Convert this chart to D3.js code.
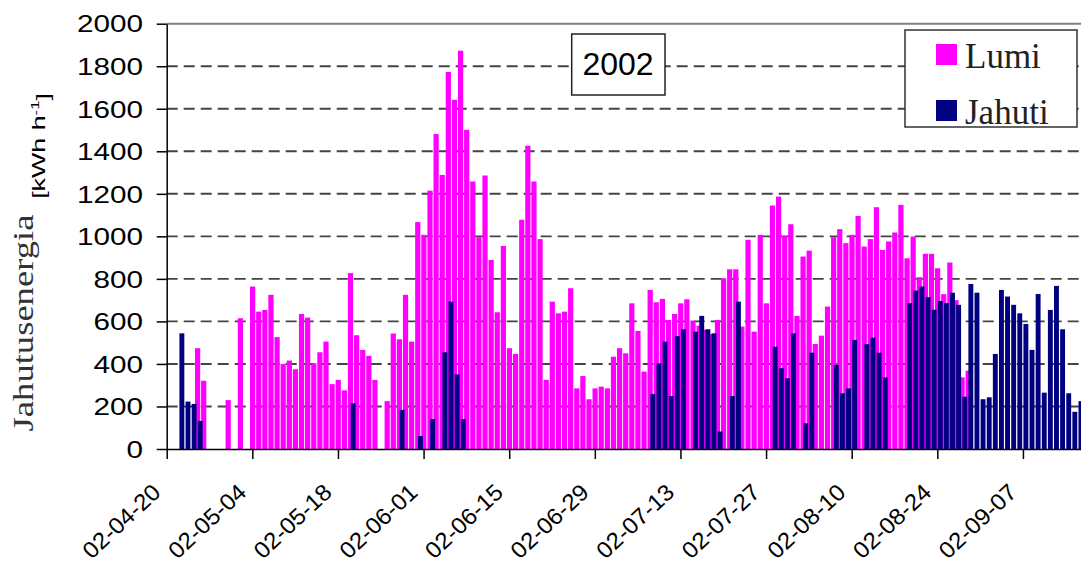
<!DOCTYPE html>
<html>
<head>
<meta charset="utf-8">
<script src="https://cdn.jsdelivr.net/npm/d3@7"></script>
<style>
  body { margin: 0; background: #fff; }
  svg { display: block; }
</style>
</head>
<body>
<div id="chart"></div>
<script>
/* DATA – one value per day, starting 2002-04-20 */
var startDay = "02-04-20";

var lumi = [
  0, 0, 0, 0, 0, 474, 321, 0, 0, 0,
  230, 0, 615, 0, 764, 646, 654, 725, 526, 400,
  416, 375, 635, 618, 403, 455, 505, 305, 325, 276,
  827, 535, 466, 438, 325, 0, 225, 543, 516, 725,
  505, 1067, 1007, 1215, 1481, 1289, 1773, 1642, 1873, 1501,
  1258, 996, 1286, 889, 643, 955, 474, 447, 1078, 1426,
  1258, 987, 325, 693, 638, 646, 756, 285, 343, 234,
  285, 293, 285, 434, 474, 450, 685, 555, 364, 748,
  690, 706, 607, 635, 685, 704, 604, 580, 560, 540,
  607, 803, 845, 845, 576, 984, 552, 1007, 685, 1145,
  1187, 1002, 1057, 626, 905, 933, 494, 533, 670, 996,
  1034, 968, 1007, 1096, 952, 987, 1137, 936, 976, 1018,
  1148, 897, 999, 808, 918, 918, 850, 728, 877, 700,
  337, 368, 0, 0, 0, 0, 0, 0, 0, 0,
  0, 0, 0, 0, 0, 0, 0, 0, 0, 0
];

var jahuti = [
  0, 0, 544, 223, 212, 132, 0, 0, 0, 0,
  0, 0, 0, 0, 0, 0, 0, 0, 0, 0,
  0, 0, 0, 0, 0, 0, 0, 0, 0, 0,
  215, 0, 0, 0, 0, 0, 0, 0, 184, 0,
  0, 61, 0, 141, 0, 455, 693, 351, 141, 0,
  0, 0, 0, 0, 0, 0, 0, 0, 0, 0,
  0, 0, 0, 0, 0, 0, 0, 0, 0, 0,
  0, 0, 0, 0, 0, 0, 0, 0, 0, 259,
  403, 505, 249, 531, 563, 0, 552, 626, 563, 544,
  82, 0, 249, 693, 0, 0, 0, 0, 0, 481,
  380, 333, 544, 0, 121, 453, 0, 0, 0, 395,
  262, 285, 513, 0, 493, 524, 453, 337, 0, 0,
  0, 686, 745, 764, 714, 655, 696, 686, 735, 678,
  246, 776, 735, 234, 243, 447, 748, 717, 678, 638,
  588, 466, 729, 265, 654, 767, 563, 262, 175, 225
];

var xTickLabels = ["02-04-20", "02-05-04", "02-05-18", "02-06-01", "02-06-15", "02-06-29",
                   "02-07-13", "02-07-27", "02-08-10", "02-08-24", "02-09-07"];
var yTicks = [0, 200, 400, 600, 800, 1000, 1200, 1400, 1600, 1800, 2000];
var seriesNames = ["Lumi", "Jahuti"];
var seriesColors = ["#ff00ff", "#000080"];
var yearLabel = "2002";

/* SETUP */
var width = 1081;
var height = 567;
var plotLeft = 166.7, plotBottom = 449, plotTop = 23.7;
var dayWidth = 6.116;

var parseDay = d3.utcParse("%y-%m-%d");
var start = parseDay(startDay);

var svg = d3.select("#chart")
  .append("svg")
  .attr("width", width)
  .attr("height", height);

var x = d3.scaleUtc()
  .domain([start, d3.utcDay.offset(start, 150)])
  .range([plotLeft, plotLeft + 150 * dayWidth]);

var y = d3.scaleLinear()
  .domain([0, 2000])
  .range([plotBottom, plotTop]);

var sans = "'Liberation Sans', Arial, sans-serif";
var serif = "'Liberation Serif', 'Times New Roman', serif";

// dashed gridlines, solid border at the top
svg.append("g")
  .selectAll("line")
  .data(yTicks.filter(function(d) { return d > 0; }))
  .join("line")
  .attr("x1", plotLeft)
  .attr("x2", width)
  .attr("y1", function(d) { return y(d); })
  .attr("y2", function(d) { return y(d); })
  .attr("stroke", function(d) { return d === 2000 ? "#808080" : "#444"; })
  .attr("stroke-width", function(d) { return d === 2000 ? 2 : 1.9; })
  .attr("stroke-dasharray", function(d) { return d === 2000 ? null : "11,6"; });

// bars – Lumi behind, Jahuti in front (shifted to the right, overlapping)
function toRows(values) {
  return values.map(function(v, i) {
    return { date: d3.utcDay.offset(start, i), value: v };
  }).filter(function(d) { return d.value > 0; });
}

svg.append("g")
  .selectAll("rect")
  .data(toRows(lumi))
  .join("rect")
  .attr("x", function(d) { return x(d.date) - 2.3; })
  .attr("width", 5.2)
  .attr("y", function(d) { return y(d.value); })
  .attr("height", function(d) { return y(0) - y(d.value); })
  .attr("fill", seriesColors[0]);

svg.append("g")
  .selectAll("rect")
  .data(toRows(jahuti))
  .join("rect")
  .attr("x", function(d) { return x(d.date) + 0.5; })
  .attr("width", 4.9)
  .attr("y", function(d) { return y(d.value); })
  .attr("height", function(d) { return y(0) - y(d.value); })
  .attr("fill", seriesColors[1]);

// y axis
var yAxis = svg.append("g")
  .attr("transform", "translate(" + plotLeft + ",0)")
  .call(d3.axisLeft(y)
    .tickValues(yTicks)
    .tickFormat(d3.format("d"))
    .tickSize(10)
    .tickSizeOuter(0));
yAxis.select(".domain").attr("stroke", "#000").attr("stroke-width", 1.5);
yAxis.selectAll(".tick line").attr("stroke", "#000").attr("stroke-width", 1.5);
yAxis.selectAll(".tick text")
  .attr("x", 0)
  .attr("dy", "0.36em")
  .attr("transform", "translate(-23.7,0) scale(1.29,1)")
  .attr("fill", "#000")
  .style("font-family", sans)
  .style("font-size", "23px");

// x axis
var xAxis = svg.append("g")
  .attr("transform", "translate(0," + plotBottom + ")")
  .call(d3.axisBottom(x)
    .tickValues(xTickLabels.map(parseDay))
    .tickFormat(d3.utcFormat("%y-%m-%d"))
    .tickSize(10)
    .tickSizeOuter(0));
xAxis.select(".domain").attr("stroke", "#000").attr("stroke-width", 1.5);
xAxis.selectAll(".tick line").attr("stroke", "#000").attr("stroke-width", 1.5);
xAxis.selectAll(".tick text")
  .attr("y", 0)
  .attr("dy", null)
  .attr("text-anchor", "end")
  .attr("transform", "translate(-5,45) rotate(-43) scale(1.05,1)")
  .attr("fill", "#000")
  .style("font-family", sans)
  .style("font-size", "23px");

// y axis title
svg.append("text")
  .attr("transform", "translate(33,323) rotate(-90) scale(1.22,1)")
  .attr("text-anchor", "middle")
  .style("font-family", serif)
  .style("font-size", "30px")
  .attr("fill", "#333")
  .text("Jahutusenergia");

var unit = svg.append("text")
  .attr("transform", "translate(45,146) rotate(-90) scale(1.45,1)")
  .attr("text-anchor", "middle")
  .style("font-family", sans)
  .style("font-size", "18.5px")
  .attr("fill", "#000");
unit.append("tspan").text("[kWh h");
unit.append("tspan").attr("dy", "-0.5em").style("font-size", "11.5px").text("-1");
unit.append("tspan").attr("dy", "0.5em").text("]");

// year box
var yearBox = svg.append("g");
yearBox.append("rect")
  .attr("x", 571.7).attr("y", 34)
  .attr("width", 93.3).attr("height", 61)
  .attr("fill", "#fff")
  .attr("stroke", "#222")
  .attr("stroke-width", 1.5);
yearBox.append("text")
  .attr("x", 618).attr("y", 75)
  .attr("text-anchor", "middle")
  .style("font-family", sans)
  .style("font-size", "32px")
  .attr("fill", "#000")
  .text(yearLabel);

// legend
var legend = svg.append("g");
legend.append("rect")
  .attr("x", 905).attr("y", 30)
  .attr("width", 172).attr("height", 97)
  .attr("fill", "#fff")
  .attr("stroke", "#333")
  .attr("stroke-width", 1.5);

var items = legend.selectAll("g.item")
  .data(seriesNames)
  .join("g")
  .attr("class", "item")
  .attr("transform", function(d, i) { return "translate(936," + (44 + i * 56) + ")"; });
items.append("rect")
  .attr("width", 21).attr("height", 21)
  .attr("fill", function(d, i) { return seriesColors[i]; });
items.append("text")
  .attr("x", 29).attr("y", 23.5)
  .style("font-family", serif)
  .style("font-size", "35px")
  .attr("fill", "#222")
  .text(function(d) { return d; });
</script>
</body>
</html>
